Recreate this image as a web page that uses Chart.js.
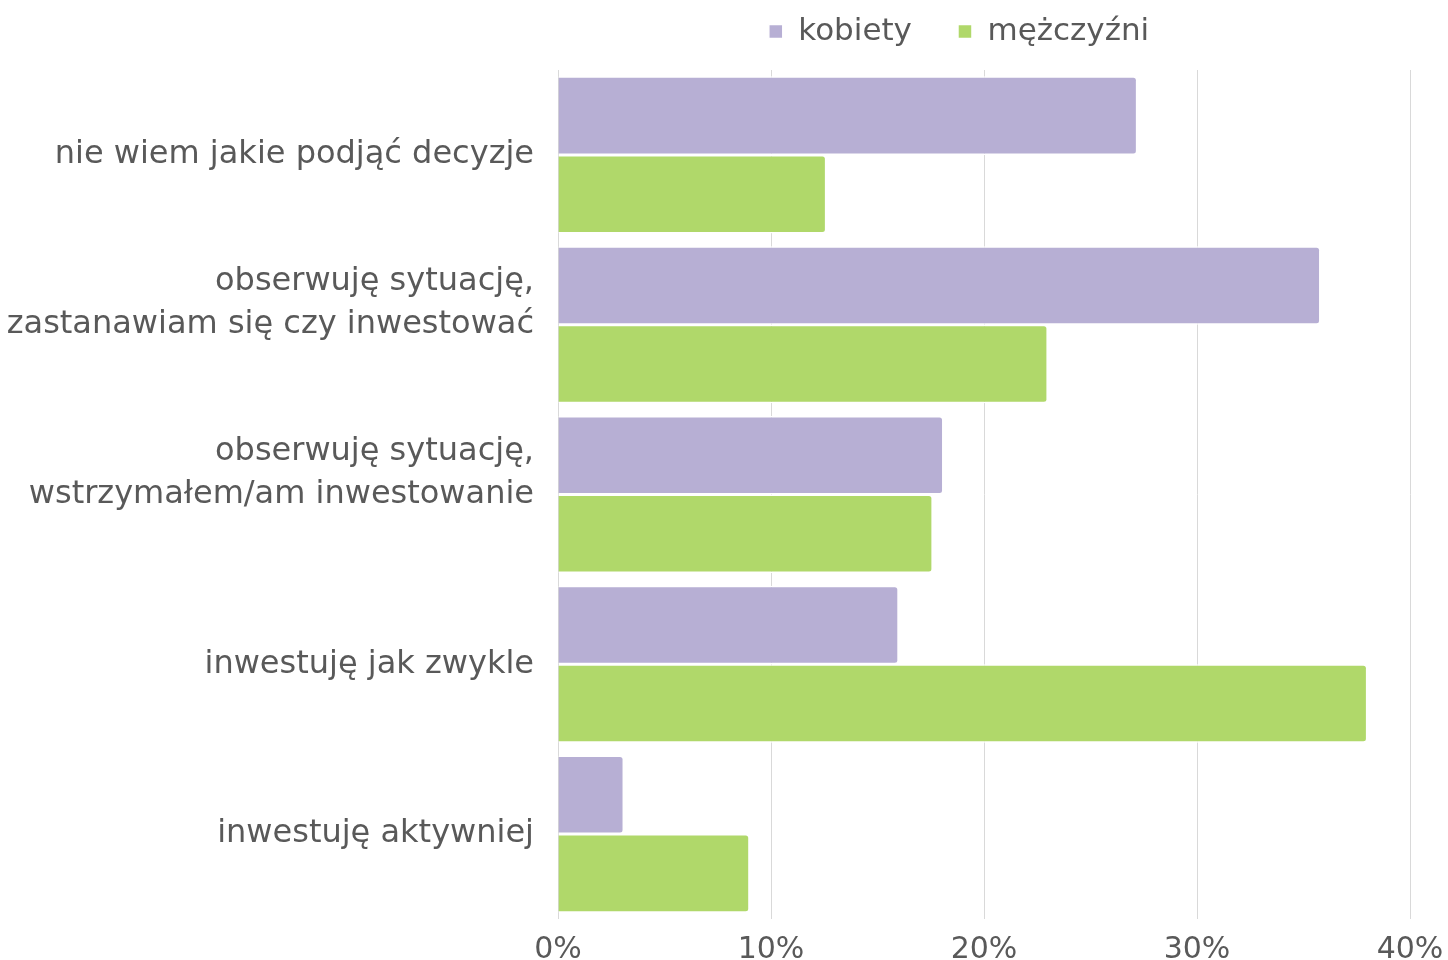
<!DOCTYPE html>
<html>
<head>
<meta charset="utf-8">
<script src="https://cdn.jsdelivr.net/npm/chart.js@4.4.0/dist/chart.umd.min.js"></script>
<style>
  html, body { margin: 0; padding: 0; background: #ffffff; }
  #wrap { width: 1448px; height: 960px; }
</style>
</head>
<body>
<div id="wrap"><canvas id="chart"></canvas></div>
<script>
const categories = [
  'nie wiem jakie podjąć decyzje',
  ['obserwuję sytuację,', 'zastanawiam się czy inwestować', ''],
  ['obserwuję sytuację,', 'wstrzymałem/am inwestowanie', ''],
  'inwestuję jak zwykle',
  'inwestuję aktywniej'
];
const kobiety = [27.2, 35.8, 18.1, 16.0, 3.1];
const mezczyzni = [12.6, 23.0, 17.6, 38.0, 9.0];
const xTicks = [0, 10, 20, 30, 40];

const textColor = '#595959';
const fontFamily = '"DejaVu Sans", sans-serif';

// legend sits over the plot and higher up, like in the original
const legendShift = {
  id: 'legendShift',
  afterLayout(chart) {
    const lg = chart.legend;
    lg.left += 235;
    lg.right += 235;
    lg.top -= 30;
  }
};

new Chart(document.getElementById('chart').getContext('2d'), {
  type: 'bar',
  data: {
    labels: categories,
    datasets: [
      {
        label: 'kobiety',
        data: kobiety,
        backgroundColor: '#B7AFD4',
        borderColor: '#ffffff',
        borderWidth: 1.5,
        borderRadius: 4,
        borderSkipped: 'start'
      },
      {
        label: 'mężczyźni',
        data: mezczyzni,
        backgroundColor: '#B0D86A',
        borderColor: '#ffffff',
        borderWidth: 1.5,
        borderRadius: 4,
        borderSkipped: 'start'
      }
    ]
  },
  options: {
    indexAxis: 'y',
    responsive: true,
    maintainAspectRatio: false,
    animation: false,
    layout: { padding: 0 },
    datasets: {
      bar: { categoryPercentage: 0.925, barPercentage: 1.0 }
    },
    plugins: {
      tooltip: { enabled: false },
      legend: {
        position: 'top',
        align: 'center',
        maxHeight: 70,
        labels: {
          color: textColor,
          font: { family: fontFamily, size: 31 },
          boxWidth: 14,
          boxHeight: 14,
          padding: 46
        }
      }
    },
    scales: {
      x: {
        min: 0,
        max: 40,
        afterBuildTicks: (axis) => { axis.ticks = xTicks.map(v => ({ value: v })); },
        afterFit: (axis) => {
          axis.height = 41;
          axis.paddingLeft = 0;
          axis.paddingRight = 38;
        },
        ticks: {
          color: textColor,
          font: { family: fontFamily, size: 30 },
          padding: 13,
          callback: (v) => v + '%'
        },
        grid: { color: '#d9d9d9', lineWidth: 1, drawTicks: false },
        border: { display: false }
      },
      y: {
        afterFit: (axis) => {
          axis.width = 558;
          axis.paddingTop = 0;
          axis.paddingBottom = 0;
        },
        ticks: {
          color: textColor,
          font: { family: fontFamily, size: 32, lineHeight: 1.33 },
          padding: 24
        },
        grid: { display: false, drawTicks: false },
        border: { display: false }
      }
    }
  },
  plugins: [legendShift]
});
</script>
</body>
</html>
